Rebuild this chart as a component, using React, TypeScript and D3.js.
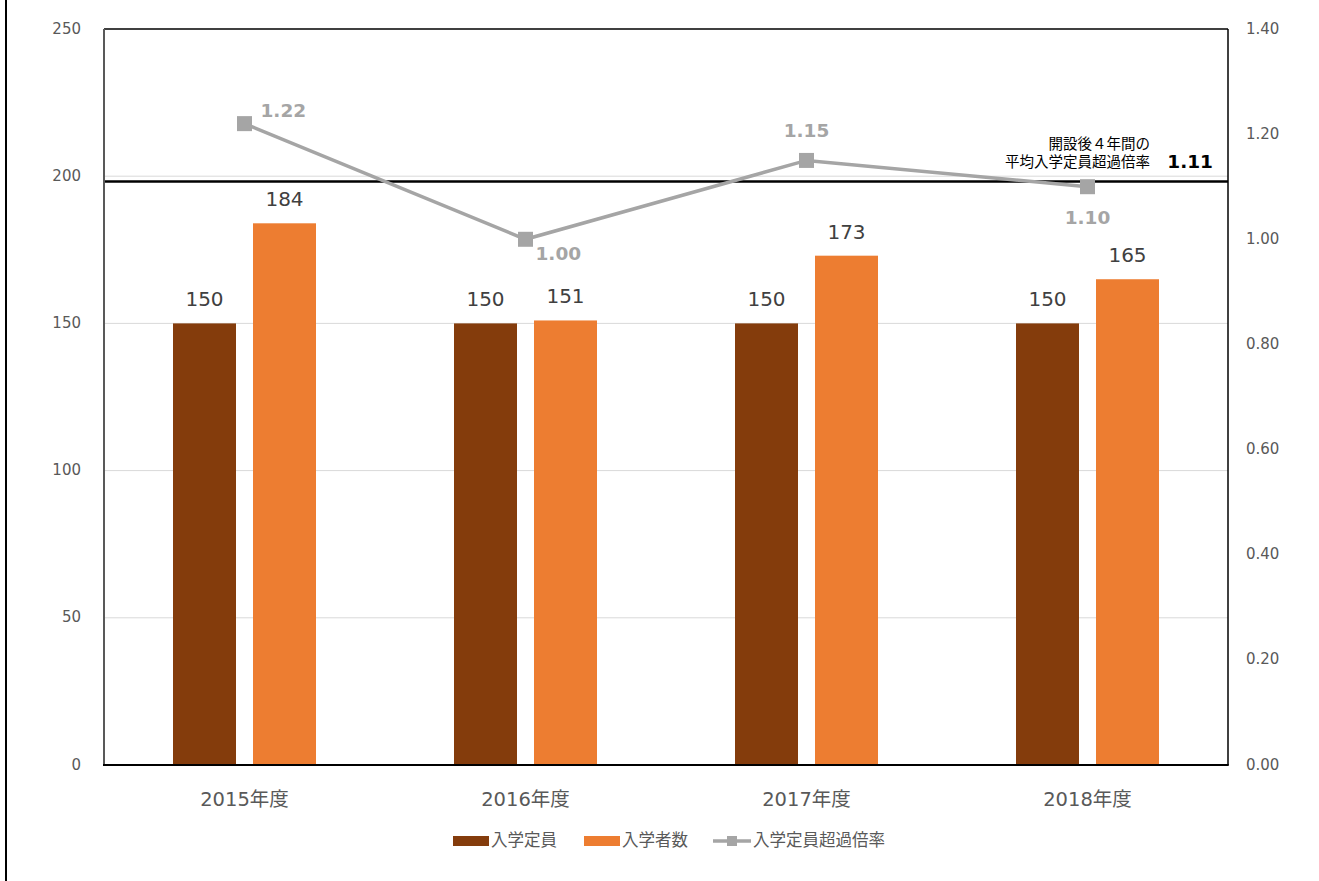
import * as d3 from "d3";

const categories = ["2015年度", "2016年度", "2017年度", "2018年度"];
const capacity = [150, 150, 150, 150];
const enrolled = [184, 151, 173, 165];
const ratio = [1.22, 1.0, 1.15, 1.1];
const averageRatio = 1.11;
const leftTicks = [0, 50, 100, 150, 200, 250];
const rightTicks = [0, 0.2, 0.4, 0.6, 0.8, 1.0, 1.2, 1.4];
const seriesNames = ["入学定員", "入学者数", "入学定員超過倍率"];

const W = 1319;
const H = 881;
const M = { left: 104, right: 1228, top: 29, bottom: 765 };

const COLORS = {
  capacity: "#843C0C",
  enrolled: "#ED7D31",
  ratio: "#A5A5A5",
  text: "#595959",
  label: "#404040",
  grid: "#D9D9D9",
};

const FONT = "'DejaVu Sans', 'Noto Sans CJK JP', sans-serif";

// ratio label offsets (dx, dy from point, anchor)
const ratioLabelPos: [number, number, string][] = [
  [16, -12, "start"],
  [10, 16, "start"],
  [0, -28, "middle"],
  [0, 32, "middle"],
];

export default function App() {
  const x = d3
    .scaleBand<string>()
    .domain(categories)
    .range([M.left, M.right]);
  const yL = d3.scaleLinear().domain([0, 250]).range([M.bottom, M.top]);
  const yR = d3.scaleLinear().domain([0, 1.4]).range([M.bottom, M.top]);

  const barW = 63;
  const gap = 17;

  const line = d3
    .line<number>()
    .x((_, i) => x(categories[i])! + x.bandwidth() / 2)
    .y((d) => yR(d));

  const avgY = yR(averageRatio);

  return (
    <svg
      width={W}
      height={H}
      style={{ position: "absolute", left: 0, top: 0, background: "#fff" }}
      fontFamily={FONT}
    >
      <rect x={0} y={0} width={W} height={H} fill="#fff" />
      <line x1={6} y1={0} x2={6} y2={H} stroke="#000" strokeWidth={2} />

      {/* gridlines */}
      {leftTicks.slice(1, -1).map((t) => (
        <line
          key={t}
          x1={M.left}
          x2={M.right}
          y1={yL(t)}
          y2={yL(t)}
          stroke={COLORS.grid}
          strokeWidth={1}
        />
      ))}

      {/* bars */}
      {categories.map((c, i) => {
        const cx = x(c)! + x.bandwidth() / 2;
        const x1 = cx - gap / 2 - barW;
        const x2 = cx + gap / 2;
        return (
          <g key={c}>
            <rect
              x={x1}
              y={yL(capacity[i])}
              width={barW}
              height={yL(0) - yL(capacity[i])}
              fill={COLORS.capacity}
            />
            <rect
              x={x2}
              y={yL(enrolled[i])}
              width={barW}
              height={yL(0) - yL(enrolled[i])}
              fill={COLORS.enrolled}
            />
            <text
              x={x1 + barW / 2}
              y={yL(capacity[i]) - 17}
              textAnchor="middle"
              fontSize={20}
              fill={COLORS.label}
            >
              {capacity[i]}
            </text>
            <text
              x={x2 + barW / 2}
              y={yL(enrolled[i]) - 17}
              textAnchor="middle"
              fontSize={20}
              fill={COLORS.label}
            >
              {enrolled[i]}
            </text>
          </g>
        );
      })}

      {/* average line */}
      <line
        x1={M.left}
        x2={M.right}
        y1={avgY}
        y2={avgY}
        stroke="#000"
        strokeWidth={2.5}
      />
      <text
        x={1150}
        y={149}
        textAnchor="end"
        fontSize={14.5}
        fill="#000"
      >
        開設後４年間の
      </text>
      <text
        x={1150}
        y={167}
        textAnchor="end"
        fontSize={14.5}
        fill="#000"
      >
        平均入学定員超過倍率
      </text>
      <text
        x={1213}
        y={168}
        textAnchor="end"
        fontSize={18.5}
        fontWeight="bold"
        fill="#000"
      >
        {averageRatio.toFixed(2)}
      </text>

      {/* ratio line */}
      <path
        d={line(ratio) ?? ""}
        fill="none"
        stroke={COLORS.ratio}
        strokeWidth={3.5}
      />
      {ratio.map((r, i) => {
        const cx = x(categories[i])! + x.bandwidth() / 2;
        const cy = yR(r);
        const [dx, dy, anchor] = ratioLabelPos[i];
        return (
          <g key={i}>
            <rect
              x={cx - 7.5}
              y={cy - 7.5}
              width={15}
              height={15}
              fill={COLORS.ratio}
            />
            <text
              x={cx + dx}
              y={cy + dy}
              textAnchor={anchor as any}
              dominantBaseline="middle"
              fontSize={18.5}
              fontWeight="bold"
              fill={COLORS.ratio}
            >
              {r.toFixed(2)}
            </text>
          </g>
        );
      })}

      {/* frame */}
      <line x1={M.left} x2={M.right} y1={M.top} y2={M.top} stroke="#000" strokeWidth={1.5} />
      <line x1={M.right} x2={M.right} y1={M.top} y2={M.bottom} stroke="#000" strokeWidth={1.5} />
      <line x1={M.left} x2={M.left} y1={M.top} y2={M.bottom} stroke="#595959" strokeWidth={2} />
      <line x1={M.left - 1} x2={M.right + 0.75} y1={M.bottom} y2={M.bottom} stroke="#000" strokeWidth={2} />

      {/* left axis labels */}
      {leftTicks.map((t) => (
        <text
          key={t}
          x={81}
          y={yL(t)}
          textAnchor="end"
          dominantBaseline="middle"
          fontSize={15}
          fill={COLORS.text}
        >
          {t}
        </text>
      ))}

      {/* right axis labels */}
      {rightTicks.map((t) => (
        <text
          key={t}
          x={1246}
          y={yR(t)}
          textAnchor="start"
          dominantBaseline="middle"
          fontSize={15}
          fill={COLORS.text}
        >
          {t.toFixed(2)}
        </text>
      ))}

      {/* category labels */}
      {categories.map((c) => (
        <text
          key={c}
          x={x(c)! + x.bandwidth() / 2}
          y={800}
          textAnchor="middle"
          dominantBaseline="middle"
          fontSize={19.5}
          fill={COLORS.text}
        >
          {c}
        </text>
      ))}

      {/* legend */}
      <g fontSize={16.5} fill={COLORS.text}>
        <rect x={453} y={836} width={36} height={10} fill={COLORS.capacity} />
        <text x={491} y={841} dominantBaseline="middle">
          {seriesNames[0]}
        </text>
        <rect x={584} y={836} width={36} height={10} fill={COLORS.enrolled} />
        <text x={622} y={841} dominantBaseline="middle">
          {seriesNames[1]}
        </text>
        <line x1={713} x2={751} y1={841} y2={841} stroke={COLORS.ratio} strokeWidth={3.5} />
        <rect x={727} y={836} width={10} height={10} fill={COLORS.ratio} />
        <text x={753} y={841} dominantBaseline="middle">
          {seriesNames[2]}
        </text>
      </g>
    </svg>
  );
}
